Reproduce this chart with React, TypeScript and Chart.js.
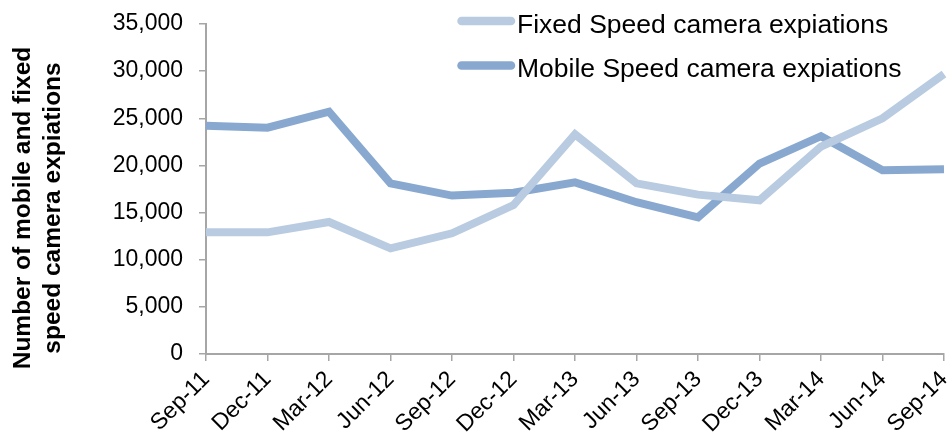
import React, { useEffect, useRef } from "react";
import { Chart, registerables } from "chart.js";

Chart.register(...registerables);

const categories = [
  "Sep-11", "Dec-11", "Mar-12", "Jun-12", "Sep-12", "Dec-12", "Mar-13",
  "Jun-13", "Sep-13", "Dec-13", "Mar-14", "Jun-14", "Sep-14",
];
const fixedSpeed = [12900, 12900, 14000, 11200, 12800, 15800, 23300, 18100, 16900, 16300, 22000, 25000, 29700];
const mobileSpeed = [24200, 24000, 25700, 18100, 16800, 17100, 18200, 16100, 14500, 20200, 23100, 19500, 19600];
const seriesNames = ["Fixed Speed camera expiations", "Mobile Speed camera expiations"];
const yTitleLines = ["Number of mobile and fixed", "speed camera expiations"];

const FIXED_COLOR = "#B9CBE0";
const MOBILE_COLOR = "#89A8CF";
const AXIS_COLOR = "#A6A6A6";
const FONT = "'Liberation Sans', Arial, sans-serif";

const customLegend = {
  id: "customLegend",
  afterDraw(chart: any) {
    const ctx = chart.ctx;
    ctx.save();
    chart.data.datasets.forEach((ds: any, i: number) => {
      const y = 21 + i * 44.5;
      ctx.beginPath();
      ctx.strokeStyle = ds.borderColor;
      ctx.lineWidth = 8.5;
      ctx.lineCap = "round";
      ctx.moveTo(461.5, y);
      ctx.lineTo(511, y);
      ctx.stroke();
      ctx.fillStyle = "#000";
      ctx.font = `26.5px ${FONT}`;
      ctx.textBaseline = "alphabetic";
      ctx.textAlign = "left";
      ctx.fillText(ds.label, 517, y + 11.5);
    });
    ctx.restore();
  },
};

const yTitle = {
  id: "yTitle",
  afterDraw(chart: any) {
    const ctx = chart.ctx;
    ctx.save();
    ctx.fillStyle = "#000";
    ctx.font = `bold 24.5px ${FONT}`;
    ctx.textAlign = "center";
    ctx.textBaseline = "middle";
    yTitleLines.forEach((line, i) => {
      ctx.save();
      ctx.translate(23 + i * 30, 208);
      ctx.rotate(-Math.PI / 2);
      ctx.fillText(line, 0, 0);
      ctx.restore();
    });
    ctx.restore();
  },
};

export default function App() {
  const ref = useRef<HTMLCanvasElement>(null);
  useEffect(() => {
    if (!ref.current) return;
    const chart = new Chart(ref.current, {
      type: "line",
      data: {
        labels: categories,
        datasets: [
          {
            label: seriesNames[0],
            data: fixedSpeed,
            borderColor: FIXED_COLOR,
            backgroundColor: FIXED_COLOR,
            borderWidth: 8,
            pointRadius: 0,
            tension: 0,
          },
          {
            label: seriesNames[1],
            data: mobileSpeed,
            borderColor: MOBILE_COLOR,
            backgroundColor: MOBILE_COLOR,
            borderWidth: 8,
            pointRadius: 0,
            tension: 0,
          },
        ],
      },
      options: {
        animation: false,
        responsive: true,
        maintainAspectRatio: false,
        layout: { padding: { top: 24, right: 5, left: 0, bottom: 0 } },
        plugins: { legend: { display: false }, tooltip: { enabled: false } },
        scales: {
          x: {
            offset: false,
            grid: { display: true, drawOnChartArea: false, drawTicks: true, tickLength: 7, color: AXIS_COLOR, lineWidth: 1.5 },
            border: { display: true, color: AXIS_COLOR, width: 2 },
            ticks: {
              autoSkip: false,
              minRotation: 45,
              maxRotation: 45,
              color: "#000",
              padding: 5,
              font: { family: FONT, size: 23 },
            },
            afterFit(scale: any) {
              scale.height = 85;
              scale.paddingRight = 0;
              scale.paddingLeft = 0;
            },
          },
          y: {
            min: 0,
            max: 35000,
            grid: { display: true, drawOnChartArea: false, drawTicks: true, tickLength: 7, color: AXIS_COLOR, lineWidth: 1.5 },
            border: { display: true, color: AXIS_COLOR, width: 2 },
            ticks: {
              stepSize: 5000,
              color: "#000",
              padding: 16,
              font: { family: FONT, size: 23 },
              callback: (v: any) => Number(v).toLocaleString("en-US"),
            },
            afterFit(scale: any) {
              scale.width = 206;
              scale.paddingTop = 0;
              scale.paddingBottom = 0;
            },
          },
        },
      },
      plugins: [customLegend, yTitle],
    });
    return () => chart.destroy();
  }, []);
  return (
    <div style={{ position: "fixed", left: 0, top: 0, width: 949, height: 439 }}>
      <canvas ref={ref} />
    </div>
  );
}
